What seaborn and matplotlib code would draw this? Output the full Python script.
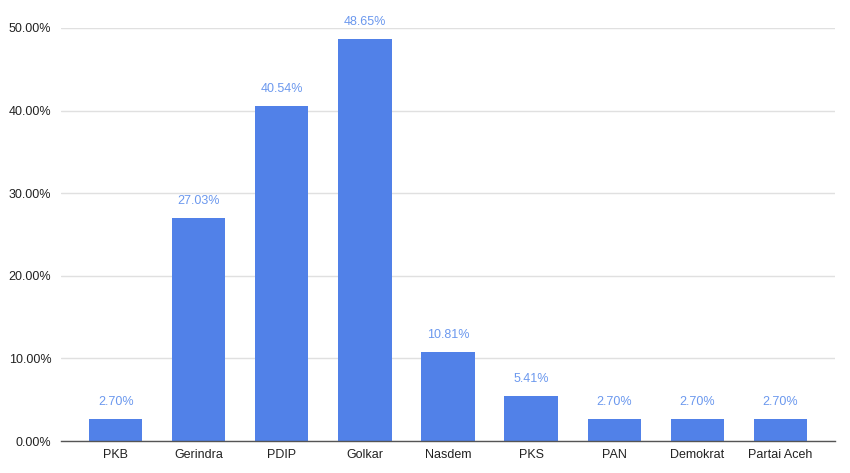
import matplotlib
matplotlib.use("Agg")
import matplotlib.pyplot as plt
import seaborn as sns
import pandas as pd
from matplotlib.ticker import FuncFormatter

parties = ["PKB", "Gerindra", "PDIP", "Golkar", "Nasdem", "PKS", "PAN", "Demokrat", "Partai Aceh"]
values = [2.70, 27.03, 40.54, 48.65, 10.81, 5.41, 2.70, 2.70, 2.70]
yticks = [0, 10, 20, 30, 40, 50]

df = pd.DataFrame({"party": parties, "value": values})

sns.set_theme(style="white")
plt.rcParams['font.family'] = ['Liberation Sans', 'DejaVu Sans']

fig = plt.figure(figsize=(8.5, 4.73), dpi=100)
ax = fig.add_axes([61/850, 1-441/473, (835-61)/850, (441-28)/473])

bar_color = "#5181e8"
sns.barplot(data=df, x="party", y="value", color=bar_color, width=0.64, ax=ax,
            saturation=1, edgecolor="none")

ax.set_xlim(-0.66, 8.66)
ax.set_ylim(0, 50)
ax.set_yticks(yticks)
ax.yaxis.set_major_formatter(FuncFormatter(lambda v, p: f"{v:.2f}%"))
ax.grid(axis="y", color="#e0e0e0", linewidth=1)
ax.set_axisbelow(True)
for s in ["top", "right", "left"]:
    ax.spines[s].set_visible(False)
ax.spines["bottom"].set_color("#555555")
ax.spines["bottom"].set_linewidth(1)
ax.set_xlabel("")
ax.set_ylabel("")
ax.tick_params(axis="both", length=0, labelsize=9, colors="#222222")
ax.tick_params(axis="x", pad=6)
ax.tick_params(axis="y", pad=7)

for i, v in enumerate(values):
    ax.annotate(f"{v:.2f}%", (i, v), xytext=(0, 8), textcoords="offset points",
                ha="center", va="bottom", fontsize=9, color="#6b98ee")

fig.savefig("out.png", dpi=100)
